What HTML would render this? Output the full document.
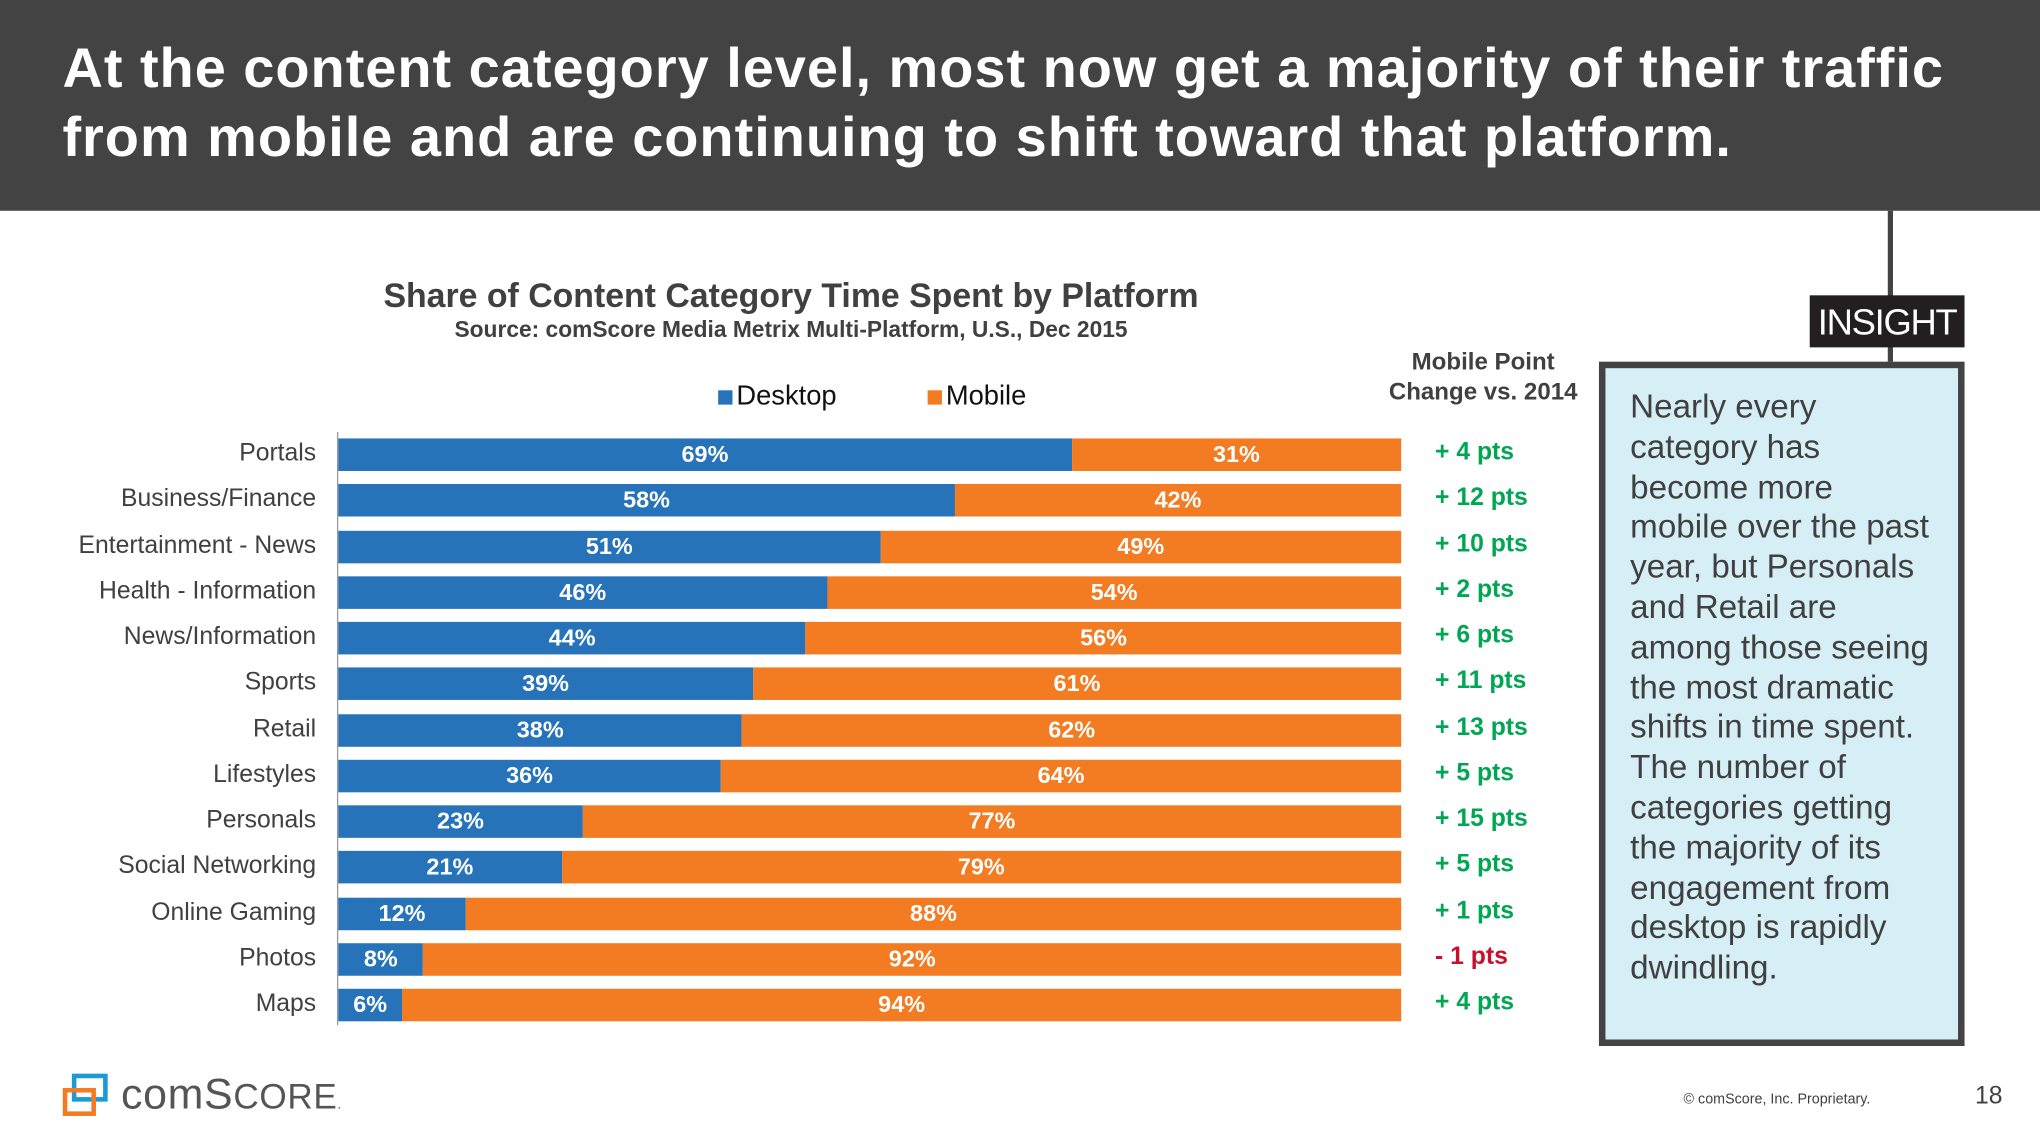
<!DOCTYPE html>
<html><head><meta charset="utf-8"><style>
html,body{margin:0;padding:0;width:2040px;height:1148px;overflow:hidden;background:#fff;font-family:"Liberation Sans",sans-serif}
#stage{position:absolute;left:0;top:0;width:1568px;height:882px;transform:scale(1.30102);transform-origin:0 0}
.abs{position:absolute}
#header{left:0;top:0;width:1568px;height:162px;background:#434343}
#title{left:48px;top:27px;color:#fff;font-weight:bold;font-size:43px;letter-spacing:0.75px;line-height:53px;white-space:nowrap}
.cat{position:absolute;right:1325px;font-size:19px;color:#404040;white-space:nowrap;line-height:20px}
.pts{position:absolute;left:1103px;font-size:19px;font-weight:bold;white-space:nowrap;line-height:20px}
.bar{position:absolute;height:25px}
.bl{position:absolute;color:#fff;font-weight:bold;font-size:18px;line-height:25px;text-align:center}
#insight-text{left:1253px;top:298px;font-size:25.5px;line-height:30.8px;color:#404040;width:238px}
</style></head><body>
<div id="stage">
<div id="header" class="abs"></div>
<div id="title" class="abs">At the content category level, most now get a majority of their traffic<br>from mobile and are continuing to shift toward that platform.</div>
<div class="abs" style="left:208px;width:800px;top:212px;text-align:center;font-size:26px;font-weight:bold;color:#404040">Share of Content Category Time Spent by Platform</div>
<div class="abs" style="left:208px;width:800px;top:243px;text-align:center;font-size:17.5px;font-weight:bold;color:#404040">Source: comScore Media Metrix Multi-Platform, U.S., Dec 2015</div>
<div class="abs" style="left:552px;top:293px;font-size:21px;color:#111;white-space:nowrap"><span style="display:inline-block;width:11px;height:11px;background:#2773ba;margin-right:3px"></span>Desktop</div>
<div class="abs" style="left:713px;top:293px;font-size:21px;color:#111;white-space:nowrap"><span style="display:inline-block;width:11px;height:11px;background:#f37b21;margin-right:3px"></span>Mobile</div>
<div class="abs" style="left:1040px;width:200px;top:266px;text-align:center;font-size:18.5px;font-weight:bold;color:#404040;line-height:23px">Mobile Point<br>Change vs. 2014</div>
<div class="abs" style="left:259px;top:332px;width:1px;height:456px;background:#999"></div>
<div id="chart"></div>
<div class="abs" style="left:1451px;top:162px;width:4px;height:118px;background:#434343"></div>
<div class="abs" style="left:1391px;top:227px;width:119px;height:40px;background:#231f20;color:#fff;font-size:28px;line-height:42px;text-align:center;letter-spacing:-1px">INSIGHT</div>
<div class="abs" style="left:1229px;top:278px;width:271px;height:516px;border:5px solid #434343;background:#d6eef5"></div>
<div id="insight-text" class="abs">Nearly every category has become more mobile over the past year, but Personals and Retail are among those seeing the most dramatic shifts in time spent. The number of categories getting the majority of its engagement from desktop is rapidly dwindling.</div>
<svg class="abs" style="left:47px;top:825px" width="40" height="35"><rect x="10" y="2" width="24" height="18" fill="none" stroke="#1a9ad6" stroke-width="3.5"/><rect x="3" y="13" width="22" height="18" fill="none" stroke="#f37b21" stroke-width="3.5"/></svg>
<div class="abs" style="left:93px;top:822px;font-family:'Liberation Sans',sans-serif;font-size:33px;color:#555;white-space:nowrap;letter-spacing:0.5px">com<span>S</span><span style="font-size:27px">CORE</span><span style="font-size:10px">.</span></div>
<div class="abs" style="left:1294px;top:839px;font-size:11px;color:#404040;white-space:nowrap">© comScore, Inc. Proprietary.</div>
<div class="abs" style="left:1518px;top:832px;font-size:19px;color:#404040">18</div>
</div>
<script>
const categories=["Portals","Business/Finance","Entertainment - News","Health - Information","News/Information","Sports","Retail","Lifestyles","Personals","Social Networking","Online Gaming","Photos","Maps"];
const desktop=[69,58,51,46,44,39,38,36,23,21,12,8,6];
const mobile=[31,42,49,54,56,61,62,64,77,79,88,92,94];
const change=[4,12,10,2,6,11,13,5,15,5,1,-1,4];
const X0=260,W=817,Y0=337,STEP=35.25,BH=25;
function xs(v){return v/100*W;}
function ys(i){return Y0+i*STEP;}
const chart=document.getElementById('chart');
function mk(cls,css,txt){const d=document.createElement('div');d.className=cls;d.style.cssText=css;if(txt!==undefined)d.textContent=txt;chart.appendChild(d);return d;}
categories.forEach((c,i)=>{
 const y=ys(i);
 const lab=mk('cat','top:'+(y+2)+'px',c);
 
 
 const dw=xs(desktop[i]),mw=xs(mobile[i]);
 const b1=mk('bar','left:'+X0+'px;top:'+y+'px;width:'+dw+'px;background:#2773ba');
 
 
 const b2=mk('bar','left:'+(X0+dw)+'px;top:'+y+'px;width:'+mw+'px;background:#f37b21');
 
 
 const l1=mk('bl','left:'+X0+'px;top:'+y+'px;width:'+Math.max(dw,48)+'px',desktop[i]+'%');
 
 
 const l2=mk('bl','left:'+(X0+dw)+'px;top:'+y+'px;width:'+mw+'px',mobile[i]+'%');
 
 
 const v=change[i];
 const p=mk('pts','top:'+(y+1)+'px;color:'+(v<0?'#c8102e':'#00a651'),(v<0?'- ':'+ ')+Math.abs(v)+' pts');
 
 
});
</script>
</body></html>
